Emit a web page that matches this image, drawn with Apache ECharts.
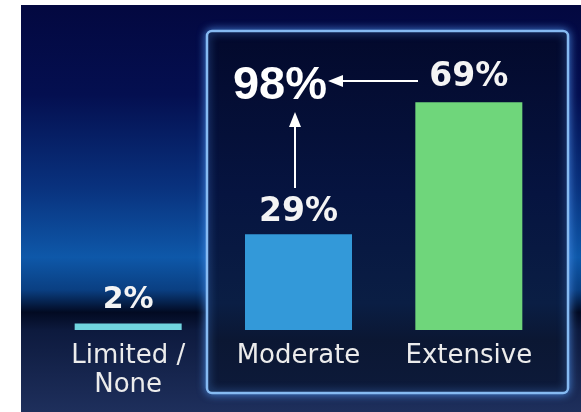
<!DOCTYPE html>
<html>
<head>
<meta charset="utf-8">
<script src="https://cdn.jsdelivr.net/npm/echarts@6/dist/echarts.min.js"></script>
<style>
html,body{margin:0;padding:0;background:#ffffff;}
#c{width:581px;height:412px;}
</style>
</head>
<body>
<div id="c"></div>
<script>
var categories = ['Limited /\nNone', 'Moderate', 'Extensive'];
var shares = [2, 29, 69];
var barColors = ['#70d4df', '#3399d9', '#6fd67b'];
var combinedParts = [1, 2]; // Moderate + Extensive

var combined = combinedParts.reduce(function (s, i) { return s + shares[i]; }, 0);

var chart = echarts.init(document.getElementById('c'), null, {renderer: 'canvas'});

function lg(stops) {
  return {type: 'linear', x: 0, y: 0, x2: 0, y2: 1, colorStops: stops};
}

var option = {
  backgroundColor: 'transparent',
  animation: false,
  grid: {left: 43, right: 27, top: 0, bottom: 82},
  xAxis: {
    type: 'category',
    data: categories,
    axisLine: {show: false},
    axisTick: {show: false},
    axisLabel: {
      color: '#ececec',
      fontFamily: 'DejaVu Sans',
      fontSize: 26,
      lineHeight: 29,
      margin: 12,
      interval: 0
    }
  },
  yAxis: {type: 'value', min: 0, max: 100, show: false, splitLine: {show: false}},
  graphic: [
    {type: 'rect', z: -10, silent: true,
     shape: {x: 21, y: 5, width: 560, height: 407},
     style: {fill: lg([
       {offset: 0, color: '#030840'},
       {offset: 0.22, color: '#040f50'},
       {offset: 0.45, color: '#09327e'},
       {offset: 0.62, color: '#0e58a9'},
       {offset: 0.70, color: '#0a3f82'},
       {offset: 0.755, color: '#020a22'},
       {offset: 0.80, color: '#0d1a3e'},
       {offset: 1, color: '#1e2f5c'}
     ])}},
    {type: 'rect', z: -9, silent: true,
     shape: {x: 207, y: 31, width: 361, height: 362, r: 5},
     style: {
       fill: lg([
         {offset: 0, color: '#03092c'},
         {offset: 0.45, color: '#061440'},
         {offset: 0.75, color: '#0a1e44'},
         {offset: 0.85, color: '#0b1733'},
         {offset: 1, color: '#0d1a3a'}
       ]),
       stroke: '#86baf2', lineWidth: 2.5,
       shadowColor: 'rgba(80,150,240,0.8)', shadowBlur: 8
     }},
    {type: 'text', z: 10, silent: true,
     style: {
       text: combined + '%', x: 280, y: 86,
       align: 'center', verticalAlign: 'middle',
       fill: '#ffffff',
       fontFamily: 'Liberation Sans', fontWeight: 'bold', fontSize: 47
     }},
    {type: 'line', z: 10, silent: true,
     shape: {x1: 418, y1: 81, x2: 340, y2: 81},
     style: {stroke: '#ffffff', lineWidth: 2}},
    {type: 'polygon', z: 10, silent: true,
     shape: {points: [[328, 81], [343, 75], [343, 87]]},
     style: {fill: '#ffffff'}},
    {type: 'line', z: 10, silent: true,
     shape: {x1: 295, y1: 188, x2: 295, y2: 124},
     style: {stroke: '#ffffff', lineWidth: 2}},
    {type: 'polygon', z: 10, silent: true,
     shape: {points: [[295, 112], [289, 127], [301, 127]]},
     style: {fill: '#ffffff'}}
  ],
  series: [{
    type: 'bar',
    barWidth: 107,
    data: shares.map(function (v, i) {
      return {
        value: v,
        itemStyle: {color: barColors[i]},
        label: {fontSize: i === 0 ? 30 : 33, distance: i === 1 ? 5 : 8}
      };
    }),
    label: {
      show: true,
      position: 'top',
      color: '#f4f4f4',
      fontFamily: 'DejaVu Sans',
      fontWeight: 'bold',
      formatter: '{c}%'
    }
  }]
};
chart.setOption(option);
</script>
</body>
</html>
